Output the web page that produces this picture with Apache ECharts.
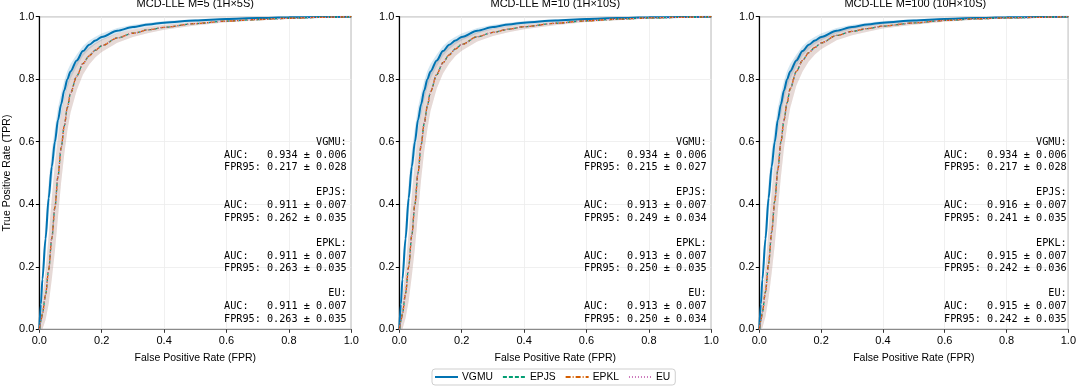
<!DOCTYPE html>
<html>
<head>
<meta charset="utf-8">
<script src="https://cdn.jsdelivr.net/npm/echarts@6/dist/echarts.min.js"></script>
<style>
  html, body { margin: 0; padding: 0; background: #fff; }
  #chart { width: 1079px; height: 390px; }
</style>
</head>
<body>
<div id="chart"></div>
<script>
// ---------- data ----------
const fpr = [0, 0.005, 0.01, 0.02, 0.03, 0.04, 0.05, 0.06, 0.07, 0.08, 0.09, 0.10, 0.12, 0.14, 0.16, 0.18, 0.20, 0.25, 0.30, 0.35, 0.40, 0.50, 0.60, 0.70, 0.80, 0.90, 1.0];

const vgmuM5   = [0, 0.08, 0.16, 0.29, 0.42, 0.52, 0.60, 0.67, 0.72, 0.765, 0.80, 0.825, 0.86, 0.89, 0.91, 0.924, 0.935, 0.955, 0.967, 0.975, 0.981, 0.988, 0.993, 0.996, 0.998, 0.999, 1.0];
const epjsM5   = [0, 0.025, 0.05, 0.11, 0.19, 0.29, 0.39, 0.49, 0.58, 0.65, 0.71, 0.755, 0.81, 0.85, 0.875, 0.893, 0.907, 0.932, 0.947, 0.958, 0.966, 0.978, 0.986, 0.991, 0.995, 0.998, 1.0];
const epklM5   = [0, 0.025, 0.05, 0.11, 0.19, 0.29, 0.39, 0.49, 0.58, 0.65, 0.71, 0.755, 0.81, 0.85, 0.875, 0.893, 0.907, 0.932, 0.947, 0.958, 0.966, 0.978, 0.986, 0.991, 0.995, 0.998, 1.0];
const euM5     = [0, 0.025, 0.05, 0.11, 0.19, 0.29, 0.39, 0.49, 0.58, 0.65, 0.71, 0.755, 0.81, 0.85, 0.875, 0.893, 0.907, 0.932, 0.947, 0.958, 0.966, 0.978, 0.986, 0.991, 0.995, 0.998, 1.0];

const vgmuM10  = [0, 0.08, 0.16, 0.29, 0.42, 0.52, 0.60, 0.67, 0.72, 0.765, 0.80, 0.825, 0.86, 0.89, 0.91, 0.924, 0.935, 0.955, 0.967, 0.975, 0.981, 0.988, 0.993, 0.996, 0.998, 0.999, 1.0];
const epjsM10  = [0, 0.025, 0.05, 0.115, 0.20, 0.30, 0.40, 0.50, 0.59, 0.66, 0.715, 0.76, 0.815, 0.853, 0.878, 0.897, 0.911, 0.936, 0.950, 0.960, 0.968, 0.979, 0.987, 0.992, 0.996, 0.998, 1.0];
const epklM10  = [0, 0.025, 0.05, 0.115, 0.20, 0.30, 0.40, 0.50, 0.59, 0.66, 0.715, 0.76, 0.815, 0.853, 0.878, 0.897, 0.911, 0.936, 0.950, 0.960, 0.968, 0.979, 0.987, 0.992, 0.996, 0.998, 1.0];
const euM10    = [0, 0.025, 0.05, 0.115, 0.20, 0.30, 0.40, 0.50, 0.59, 0.66, 0.715, 0.76, 0.815, 0.853, 0.878, 0.897, 0.911, 0.936, 0.950, 0.960, 0.968, 0.979, 0.987, 0.992, 0.996, 0.998, 1.0];

const vgmuM100 = [0, 0.08, 0.16, 0.29, 0.42, 0.52, 0.60, 0.67, 0.72, 0.765, 0.80, 0.825, 0.86, 0.89, 0.91, 0.924, 0.935, 0.955, 0.967, 0.975, 0.981, 0.988, 0.993, 0.996, 0.998, 0.999, 1.0];
const epjsM100 = [0, 0.027, 0.055, 0.12, 0.21, 0.31, 0.41, 0.51, 0.60, 0.67, 0.725, 0.77, 0.825, 0.86, 0.885, 0.902, 0.916, 0.94, 0.953, 0.962, 0.970, 0.980, 0.988, 0.993, 0.996, 0.998, 1.0];
const epklM100 = [0, 0.027, 0.055, 0.12, 0.21, 0.31, 0.41, 0.51, 0.60, 0.67, 0.725, 0.77, 0.825, 0.86, 0.885, 0.902, 0.916, 0.94, 0.953, 0.962, 0.970, 0.980, 0.988, 0.993, 0.996, 0.998, 1.0];
const euM100   = [0, 0.027, 0.055, 0.12, 0.21, 0.31, 0.41, 0.51, 0.60, 0.67, 0.725, 0.77, 0.825, 0.86, 0.885, 0.902, 0.916, 0.94, 0.953, 0.962, 0.970, 0.980, 0.988, 0.993, 0.996, 0.998, 1.0];

// half-width of the shaded spread (TPR units) at each FPR
const vgmuSpread = [0, 0.02, 0.035, 0.05, 0.05, 0.05, 0.045, 0.04, 0.035, 0.03, 0.027, 0.024, 0.019, 0.016, 0.014, 0.012, 0.011, 0.009, 0.007, 0.006, 0.005, 0.004, 0.003, 0.002, 0.001, 0.0005, 0];
const epSpread   = [0, 0.03, 0.05, 0.08, 0.11, 0.13, 0.14, 0.13, 0.11, 0.09, 0.075, 0.062, 0.045, 0.035, 0.028, 0.023, 0.02, 0.015, 0.012, 0.01, 0.008, 0.006, 0.004, 0.003, 0.002, 0.001, 0];

const panelTitles = ['MCD-LLE M=5 (1H\u00d75S)', 'MCD-LLE M=10 (1H\u00d710S)', 'MCD-LLE M=100 (10H\u00d710S)'];
const methodNames = ['VGMU', 'EPJS', 'EPKL', 'EU'];

// [AUC, AUC sd, FPR95, FPR95 sd] per method
const statsM5   = [[0.934, 0.006, 0.217, 0.028], [0.911, 0.007, 0.262, 0.035], [0.911, 0.007, 0.263, 0.035], [0.911, 0.007, 0.263, 0.035]];
const statsM10  = [[0.934, 0.006, 0.215, 0.027], [0.913, 0.007, 0.249, 0.034], [0.913, 0.007, 0.250, 0.035], [0.913, 0.007, 0.250, 0.034]];
const statsM100 = [[0.934, 0.006, 0.217, 0.028], [0.916, 0.007, 0.241, 0.035], [0.915, 0.007, 0.242, 0.036], [0.915, 0.007, 0.242, 0.035]];

// ---------- layout / style ----------
const colors = { VGMU: '#0173B2', EPJS: '#029E73', EPKL: '#D55E00', EU: '#CC78BC' };
const bandColors = { VGMU: 'rgba(1,115,178,0.17)', EPJS: 'rgba(2,158,115,0.07)', EPKL: 'rgba(213,94,0,0.11)', EU: 'rgba(204,120,188,0.12)' };
const lineTypes = { VGMU: 'solid', EPJS: [4, 2], EPKL: [5, 2, 1, 2], EU: [1, 2] };
const lineWidths = { VGMU: 2, EPJS: 1.3, EPKL: 1.3, EU: 1.3 };

const panels = [
  { lines: [vgmuM5, epjsM5, epklM5, euM5], stats: statsM5 },
  { lines: [vgmuM10, epjsM10, epklM10, euM10], stats: statsM10 },
  { lines: [vgmuM100, epjsM100, epklM100, euM100], stats: statsM100 }
];
const gridLefts = [39.3, 399.3, 759.3];
const gridTop = 16.7, gridW = 312, gridH = 312.6;
const FONT = '"Liberation Sans", Arial, sans-serif';
const MONO = '"DejaVu Sans Mono", monospace';

const chart = echarts.init(document.getElementById('chart'), null, { renderer: 'canvas' });

const grids = [], xAxes = [], yAxes = [], series = [], titles = [], graphics = [];

panels.forEach((p, i) => {
  grids.push({ left: gridLefts[i], top: gridTop, width: gridW, height: gridH, show: true, borderColor: '#8a8a8a', borderWidth: 1.2, backgroundColor: 'transparent' });
  xAxes.push({
    type: 'value', gridIndex: i, min: 0, max: 1, interval: 0.2,
    name: 'False Positive Rate (FPR)', nameLocation: 'middle', nameGap: 23,
    nameTextStyle: { fontFamily: FONT, fontSize: 10.5, color: '#000' },
    axisLine: { show: true, onZero: false, lineStyle: { color: '#8a8a8a', width: 1.2 } },
    axisTick: { show: true, length: 3.5, lineStyle: { color: '#333' } },
    axisLabel: { fontFamily: FONT, fontSize: 11, color: '#000', margin: 6, formatter: v => v.toFixed(1) },
    splitLine: { show: true, lineStyle: { color: '#ececec', width: 0.8 } }
  });
  yAxes.push({
    type: 'value', gridIndex: i, min: 0, max: 1, interval: 0.2,
    name: i === 0 ? 'True Positive Rate (TPR)' : '', nameLocation: 'middle', nameGap: 27,
    nameTextStyle: { fontFamily: FONT, fontSize: 10.5, color: '#000' },
    axisLine: { show: true, onZero: false, lineStyle: { color: '#000', width: 1.2 } },
    axisTick: { show: true, length: 3.5, lineStyle: { color: '#000' } },
    axisLabel: { fontFamily: FONT, fontSize: 11, color: '#000', margin: 5, formatter: v => v.toFixed(1) },
    splitLine: { show: true, lineStyle: { color: '#ececec', width: 0.8 } }
  });
  titles.push({
    text: panelTitles[i], left: gridLefts[i] + gridW / 2, top: -2, textAlign: 'center', padding: 0,
    textStyle: { fontFamily: FONT, fontSize: 11, fontWeight: 'normal', color: '#000' }
  });

  // shaded spreads
  methodNames.forEach((m, k) => {
    const mean = p.lines[k];
    const spread = k === 0 ? vgmuSpread : epSpread;
    series.push({
      type: 'custom', name: m + ' spread', xAxisIndex: i, yAxisIndex: i, silent: true, clip: true, z: 1,
      data: [[0.5, 0.5]],
      renderItem: (params, api) => {
        const up = fpr.map((x, j) => api.coord([x, Math.min(1, mean[j] + spread[j])]));
        const lo = fpr.map((x, j) => api.coord([x, Math.max(0, mean[j] - spread[j])])).reverse();
        return { type: 'polygon', shape: { points: up.concat(lo) }, style: { fill: bandColors[m], stroke: null } };
      }
    });
  });
  // mean curves
  methodNames.forEach((m, k) => {
    series.push({
      type: 'line', name: m, xAxisIndex: i, yAxisIndex: i, z: 3,
      data: fpr.map((x, j) => [x, p.lines[k][j]]),
      symbol: 'none', showSymbol: false, smooth: 0.3, smoothMonotone: 'x',
      lineStyle: { color: colors[m], width: lineWidths[m], type: lineTypes[m] },
      itemStyle: { color: colors[m] }
    });
  });

  // annotation: one right-aligned text element per line
  const lines = [];
  methodNames.forEach((m, k) => {
    const s = p.stats[k];
    if (k > 0) lines.push('');
    lines.push(m + ':');
    lines.push('AUC:   ' + s[0].toFixed(3) + ' \u00b1 ' + s[1].toFixed(3));
    lines.push('FPR95: ' + s[2].toFixed(3) + ' \u00b1 ' + s[3].toFixed(3));
  });
  const xRight = gridLefts[i] + gridW - 4.6;
  lines.forEach((t, li) => {
    if (!t) return;
    graphics.push({
      type: 'text', x: xRight, y: 142.3 + li * 12.62, z: 10, silent: true,
      style: { text: t, fontFamily: MONO, fontSize: 10.2, fill: '#000', align: 'right', verticalAlign: 'middle' }
    });
  });
});

chart.setOption({
  animation: false,
  backgroundColor: '#fff',
  title: titles,
  grid: grids,
  xAxis: xAxes,
  yAxis: yAxes,
  legend: {
    data: methodNames, left: 432, top: 369, orient: 'horizontal',
    itemWidth: 23, itemHeight: 10, itemGap: 9,
    itemStyle: { opacity: 0 },
    borderColor: '#cfcfcf', borderWidth: 1, borderRadius: 3, padding: [3, 5, 3, 2],
    textStyle: { fontFamily: FONT, fontSize: 10.3, color: '#000', padding: [0, 0, 0, -1] }
  },
  graphic: graphics,
  series: series
});
</script>
</body>
</html>
